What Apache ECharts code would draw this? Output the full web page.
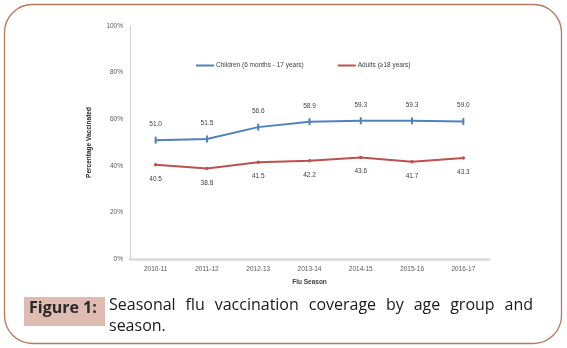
<!DOCTYPE html>
<html>
<head>
<meta charset="utf-8">
<script src="https://cdn.jsdelivr.net/npm/echarts@6/dist/echarts.min.js"></script>
<style>
  html, body { margin: 0; padding: 0; background: #ffffff; }
  #chart { width: 567px; height: 348px; }
</style>
</head>
<body>
<div id="chart"></div>
<script>
// Flu seasons on the category axis
const seasons = ['2010-11', '2011-12', '2012-13', '2013-14', '2014-15', '2015-16', '2016-17'];
// Percentage vaccinated per season
const children = [51.0, 51.5, 56.6, 58.9, 59.3, 59.3, 59.0];
const adults = [40.5, 38.8, 41.5, 42.2, 43.6, 41.7, 43.3];
// Series names
const childName = 'Children (6 months - 17 years)';
const adultName = 'Adults (\u226518 years)';
// Caption text
const captionLabel = 'Figure 1:';
const captionLine1 = 'Seasonal flu vaccination coverage by age group and';
const captionLine2 = 'season.';

const chart = echarts.init(document.getElementById('chart'), null, { renderer: 'canvas' });

const axisFont = { fontFamily: 'Liberation Sans', fontSize: 6.5, color: '#595959' };
const capFont = '"Open Sans"';
const capSize = 16;

// Justify the first caption line between two x positions, word by word
function justifiedWords(text, x0, x1, y) {
  const ctx = document.createElement('canvas').getContext('2d');
  ctx.font = capSize + 'px ' + capFont;
  const words = text.split(' ');
  const widths = words.map(w => ctx.measureText(w).width);
  const total = widths.reduce((a, b) => a + b, 0);
  const gap = (x1 - x0 - total) / (words.length - 1);
  const out = [];
  let x = x0;
  words.forEach((w, i) => {
    out.push({
      type: 'text', left: x, top: y,
      style: { text: w, fontFamily: capFont, fontSize: capSize, fill: '#1a1a1a' }
    });
    x += widths[i] + gap;
  });
  return out;
}

const graphics = [
  {
    type: 'rect', shape: { x: 4.5, y: 4.5, width: 557, height: 339, r: 28 },
    style: { fill: 'none', stroke: '#b9785c', lineWidth: 1.3 }, silent: true
  },
  {
    type: 'rect', shape: { x: 24, y: 297, width: 81, height: 29 },
    style: { fill: '#dfbcb1' }, silent: true
  },
  {
    type: 'text', left: 29, top: 300,
    style: { text: captionLabel, fontFamily: capFont, fontWeight: 'bold', fontSize: 16, fill: '#2a2a2a' }
  },
  ...justifiedWords(captionLine1, 109, 533, 297),
  {
    type: 'text', left: 109, top: 318,
    style: { text: captionLine2, fontFamily: capFont, fontSize: capSize, fill: '#1a1a1a' }
  }
];

chart.setOption({
  animation: false,
  backgroundColor: '#ffffff',
  grid: { left: 130, right: 78, top: 26, bottom: 89, containLabel: false },
  legend: {
    top: 57, left: 191, itemGap: 34, itemWidth: 18, itemHeight: 2,
    icon: 'rect',
    textStyle: { fontFamily: 'Liberation Sans', fontSize: 6.5, color: '#404040', padding: [0, 0, 0, -3] },
    data: [childName, adultName]
  },
  xAxis: {
    type: 'category', data: seasons, boundaryGap: true,
    axisLine: { lineStyle: { color: '#d9d9d9', width: 2.5 } },
    axisTick: { show: false },
    axisLabel: Object.assign({ margin: 7 }, axisFont),
    name: 'Flu Season', nameLocation: 'middle', nameGap: 20,
    nameTextStyle: { fontFamily: 'Liberation Sans', fontSize: 6.5, fontWeight: 'bold', color: '#404040' }
  },
  yAxis: {
    type: 'value', min: 0, max: 100, interval: 20,
    axisLine: { show: true, lineStyle: { color: '#d0d0d0', width: 1 } },
    axisTick: { show: false },
    splitLine: { show: false },
    axisLabel: Object.assign({ formatter: '{value}%', margin: 7 }, axisFont),
    name: 'Percentage Vaccinated', nameLocation: 'middle', nameGap: 37,
    nameTextStyle: { fontFamily: 'Liberation Sans', fontSize: 6.5, fontWeight: 'bold', color: '#262626' }
  },
  series: [
    {
      name: childName, type: 'line', data: children,
      lineStyle: { color: '#4f81bd', width: 2 },
      itemStyle: { color: '#4f81bd' },
      symbol: 'path://M0,0 L1,0 L1,10 L0,10 Z', symbolSize: [2, 7],
      label: {
        show: true, position: 'top', distance: 9,
        formatter: p => p.value.toFixed(1),
        fontFamily: 'Liberation Sans', fontSize: 6.5, color: '#404040'
      }
    },
    {
      name: adultName, type: 'line', data: adults,
      lineStyle: { color: '#c0504d', width: 2 },
      itemStyle: { color: '#c0504d' },
      symbol: 'circle', symbolSize: 3.5,
      label: {
        show: true, position: 'bottom', distance: 9,
        formatter: p => p.value.toFixed(1),
        fontFamily: 'Liberation Sans', fontSize: 6.5, color: '#404040'
      }
    }
  ],
  graphic: graphics
});
</script>
</body>
</html>
